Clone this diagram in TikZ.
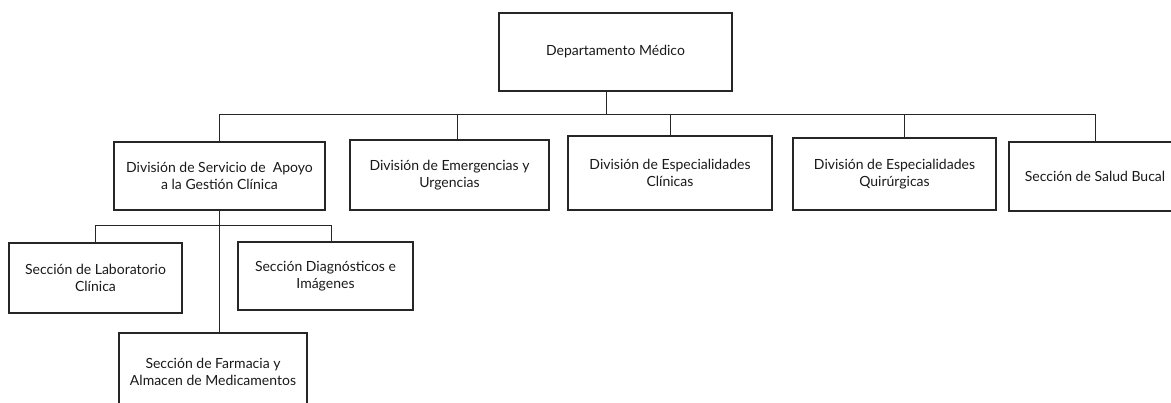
\documentclass[tikz,border=0pt]{standalone}
\usepackage{fontspec}
\setmainfont{Lato}
\begin{document}
\begin{tikzpicture}[x=1pt,y=-1pt,
  orgbox/.style={draw=black!85,line width=1.1pt,rectangle,align=center,inner sep=0pt,
    font=\fontsize{14}{17}\selectfont,text=black!90},
  link/.style={draw=black!85,line width=0.9pt}]
\useasboundingbox (0,0) rectangle (1171,402);
% top
\node[orgbox,minimum width=233pt,minimum height=78pt] (top) at (615.5,52) {Departamento Médico};
% second row
\node[orgbox,minimum width=211pt,minimum height=68pt] (apoyo) at (219.5,176) {División de Servicio de \ Apoyo\\a la Gestión Clínica};
\node[orgbox,minimum width=199pt,minimum height=70pt] (emerg) at (449.5,175) {División de Emergencias y\\Urgencias};
\node[orgbox,minimum width=204pt,minimum height=74pt] (espcl) at (670,173) {División de Especialidades\\Clínicas};
\node[orgbox,minimum width=203pt,minimum height=72pt] (quir) at (894.5,174) {División de Especialidades\\Quirúrgicas};
\node[orgbox,minimum width=172pt,minimum height=69pt] (salud) at (1095,176.5) {Sección de Salud Bucal};
% third row
\node[orgbox,minimum width=173pt,minimum height=70pt] (lab) at (95.5,278) {Sección de Laboratorio\\Clínica};
\node[orgbox,minimum width=175pt,minimum height=68pt] (diag) at (325.5,276) {Sección Diagnósticos e\\Imágenes};
\node[orgbox,minimum width=188pt,minimum height=78pt] (farm) at (213,372) {Sección de Farmacia y\\Almacen de Medicamentos};
% bus coordinates
\coordinate (b0) at (606,114);
\coordinate (b2) at (457,114);
\coordinate (b3) at (670,114);
\coordinate (b4) at (904,114);
\coordinate (b5) at (1095,114);
\coordinate (s0) at (219,225);
\coordinate (s2) at (331,225);
% connectors
\draw[link] (top.south -| b0) -- (b0);
\draw[link] (apoyo.north) |- (b5) -- (b5 |- salud.north);
\draw[link] (b2) -- (b2 |- emerg.north);
\draw[link] (b3) -- (b3 |- espcl.north);
\draw[link] (b4) -- (b4 |- quir.north);
\draw[link] (apoyo.south -| s0) -- (farm.north -| s0);
\draw[link] (lab.north) |- (s2) -- (s2 |- diag.north);
\end{tikzpicture}
\end{document}
